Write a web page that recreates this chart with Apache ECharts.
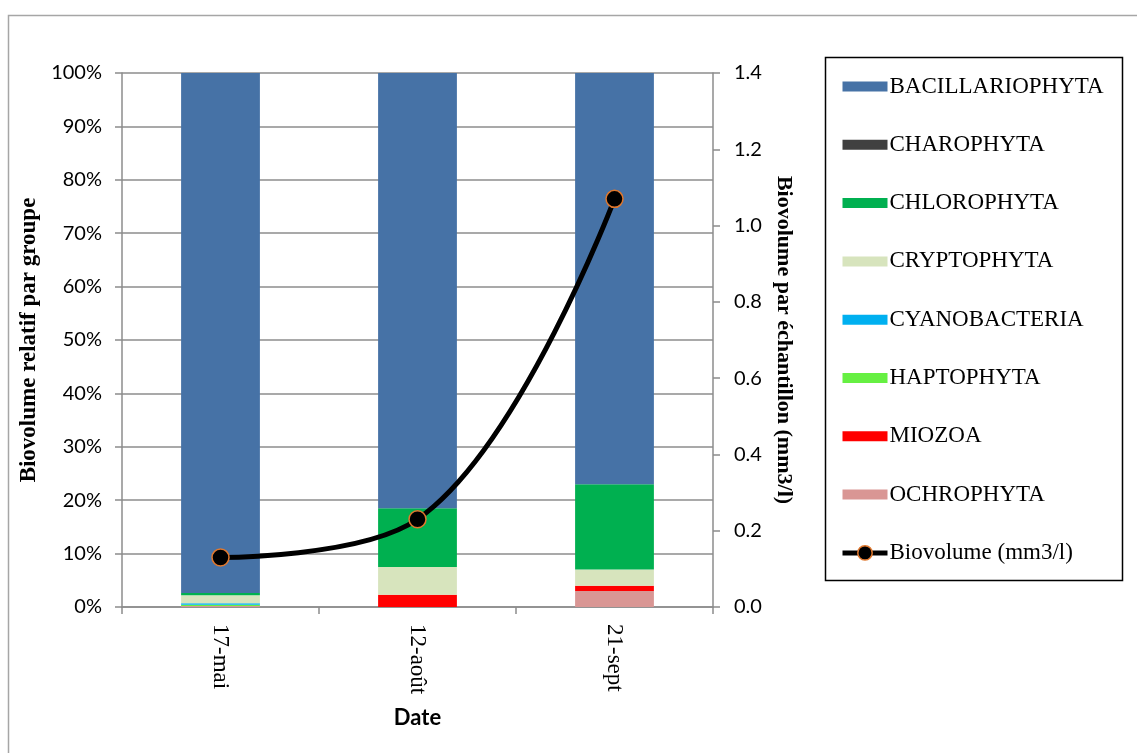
<!DOCTYPE html>
<html>
<head>
<meta charset="utf-8">
<script src="https://cdn.jsdelivr.net/npm/echarts@6/dist/echarts.min.js"></script>
<style>
  html, body { margin: 0; padding: 0; background: #fff; }
  #chart { width: 1137px; height: 753px; }
</style>
</head>
<body>
<div id="chart"></div>
<script>
// Sampling dates
const dates = ['17-mai', '12-août', '21-sept'];

// Relative biovolume per group (% of sample), stacked bottom to top
const ochrophyta      = [0.2, 0.0, 3.0];
const miozoa          = [0.0, 2.3, 1.0];
const haptophyta      = [0.2, 0.0, 0.0];
const cyanobacteria   = [0.3, 0.0, 0.0];
const cryptophyta     = [1.5, 5.2, 3.0];
const chlorophyta     = [0.4, 11.0, 16.0];
const charophyta      = [0.0, 0.0, 0.0];
const bacillariophyta = [97.4, 81.5, 77.0];

// Total biovolume per sample (mm3/l)
const biovolume = [0.13, 0.23, 1.07];

// Axis ticks
const pctTicks = [0, 10, 20, 30, 40, 50, 60, 70, 80, 90, 100];
const volTicks = [0, 0.2, 0.4, 0.6, 0.8, 1.0, 1.2, 1.4];

const groups = [
  { name: 'OCHROPHYTA',      data: ochrophyta,      color: '#D99694' },
  { name: 'MIOZOA',          data: miozoa,          color: '#FF0000' },
  { name: 'HAPTOPHYTA',      data: haptophyta,      color: '#66F042' },
  { name: 'CYANOBACTERIA',   data: cyanobacteria,   color: '#00B0F0' },
  { name: 'CRYPTOPHYTA',     data: cryptophyta,     color: '#D7E4BD' },
  { name: 'CHLOROPHYTA',     data: chlorophyta,     color: '#00B050' },
  { name: 'CHAROPHYTA',      data: charophyta,      color: '#404040' },
  { name: 'BACILLARIOPHYTA', data: bacillariophyta, color: '#4672A6' }
];

const serif = '"Liberation Serif", "Times New Roman", serif';
const sans = 'Lato, "Open Sans", sans-serif';
const gridGray = '#8C8C8C';
const lineName = 'Biovolume (mm3/l)';

const barSeries = groups.map(g => ({
  name: g.name,
  type: 'bar',
  stack: 'groups',
  yAxisIndex: 0,
  barWidth: '40%',
  itemStyle: { color: g.color },
  data: g.data
}));

const lineSeries = {
  name: lineName,
  type: 'line',
  yAxisIndex: 1,
  smooth: 0.4,
  symbol: 'circle',
  symbolSize: 17,
  lineStyle: { color: '#000', width: 5 },
  itemStyle: { color: '#000', borderColor: '#E0782E', borderWidth: 1.5 },
  z: 5,
  data: biovolume
};

// Legend lists the stack top-down, then the line
const legendNames = groups.map(g => g.name).reverse().concat([lineName]);

const chart = echarts.init(document.getElementById('chart'), null, { renderer: 'canvas' });

chart.setOption({
  animation: false,
  backgroundColor: '#fff',
  grid: { left: 122, right: 424, top: 73, bottom: 146, containLabel: false },
  graphic: [
    {
      type: 'rect',
      shape: { x: 8.5, y: 15.5, width: 1200, height: 800 },
      style: { fill: 'none', stroke: '#A6A6A6', lineWidth: 1.5 },
      silent: true
    },
    {
      type: 'rect',
      shape: { x: 825.5, y: 57.5, width: 297, height: 523 },
      style: { fill: 'none', stroke: '#000', lineWidth: 1.5 },
      silent: true
    }
  ],
  legend: {
    orient: 'vertical',
    left: 840,
    top: 75,
    itemWidth: 45,
    itemHeight: 18,
    itemGap: 35.3,
    padding: 0,
    symbolKeepAspect: true,
    data: legendNames.map(n => n === lineName
      ? { name: n, lineStyle: { width: 5, color: '#000' }, itemStyle: { color: '#000', borderColor: '#E0782E', borderWidth: 1.5 } }
      : { name: n, icon: 'path://M0,0L45,0L45,10L0,10Z' }),
    textStyle: { fontFamily: serif, fontSize: 23, color: '#000', lineHeight: 22, padding: [0, 0, 0, -3] }
  },
  xAxis: {
    type: 'category',
    data: dates,
    axisLine: { lineStyle: { color: gridGray, width: 1.5 } },
    axisTick: { show: true, length: 7, lineStyle: { color: gridGray, width: 1.5 } },
    axisLabel: { rotate: -90, margin: 17, fontFamily: serif, fontSize: 23, color: '#000' },
    name: 'Date',
    nameLocation: 'middle',
    nameGap: 100,
    nameTextStyle: { fontFamily: sans, fontSize: 22, fontWeight: 'bold', color: '#000' }
  },
  yAxis: [
    {
      type: 'value',
      min: 0,
      max: 100,
      interval: 10,
      position: 'left',
      axisLine: { show: true, lineStyle: { color: gridGray, width: 1.5 } },
      axisTick: { show: true, length: 7, inside: false, lineStyle: { color: gridGray, width: 1.5 } },
      splitLine: { show: true, lineStyle: { color: gridGray, width: 1.5 } },
      axisLabel: {
        margin: 20,
        fontFamily: sans,
        fontSize: 20,
        color: '#000',
        formatter: v => (pctTicks.indexOf(v) >= 0 ? v + '%' : '')
      },
      name: 'Biovolume relatif par groupe',
      nameLocation: 'middle',
      nameGap: 78,
      nameRotate: 90,
      nameTextStyle: { fontFamily: serif, fontSize: 23, fontWeight: 'bold', color: '#000' }
    },
    {
      type: 'value',
      min: 0,
      max: 1.4,
      interval: 0.2,
      position: 'right',
      axisLine: { show: true, lineStyle: { color: gridGray, width: 1.5 } },
      axisTick: { show: true, length: 7, inside: false, lineStyle: { color: gridGray, width: 1.5 } },
      splitLine: { show: false },
      axisLabel: {
        margin: 21,
        fontFamily: sans,
        fontSize: 20,
        color: '#000',
        formatter: v => {
          const t = volTicks.find(x => Math.abs(x - v) < 1e-9);
          return t === undefined ? '' : t.toFixed(1);
        }
      },
      name: 'Biovolume par échantillon (mm3/l)',
      nameLocation: 'middle',
      nameGap: 58,
      nameRotate: -90,
      nameTextStyle: { fontFamily: serif, fontSize: 22, fontWeight: 'bold', color: '#000' }
    }
  ],
  series: barSeries.concat([lineSeries])
});
</script>
</body>
</html>
